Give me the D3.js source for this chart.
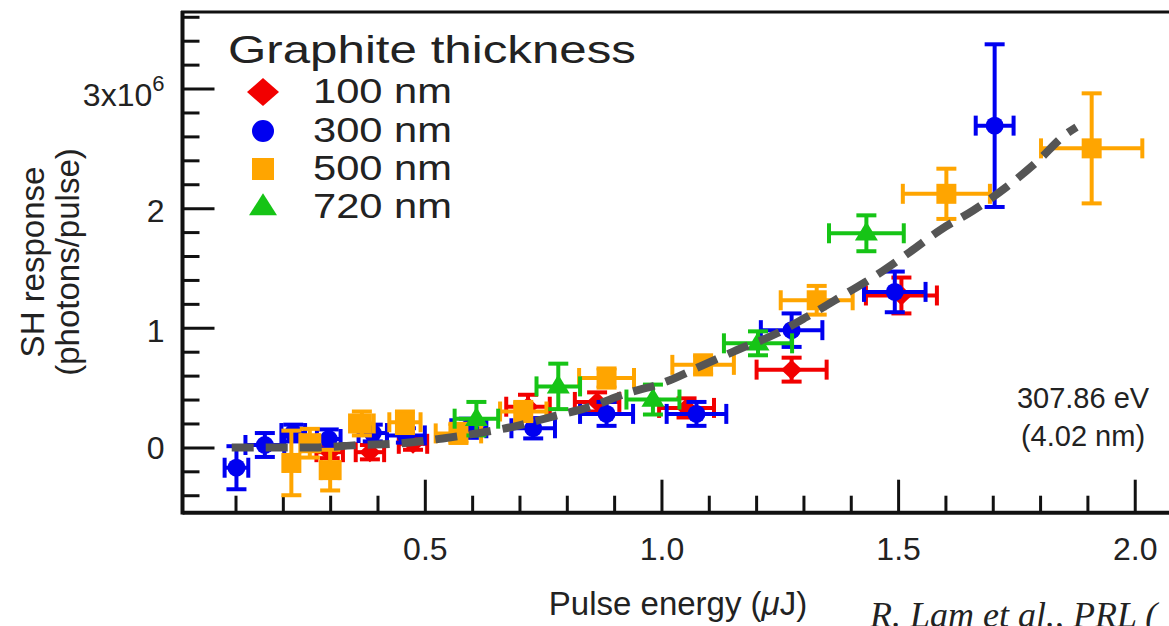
<!DOCTYPE html>
<html>
<head>
<meta charset="utf-8">
<script src="https://cdn.jsdelivr.net/npm/d3@7"></script>
<style>
  body { margin: 0; background: #fff; }
  svg { display: block; }
  text { font-family: "Liberation Sans", Arial, Helvetica, sans-serif; fill: #222; }
</style>
</head>
<body>
<svg width="1169" height="626"></svg>
<script>
// legend / series
const thickness = ['100 nm', '300 nm', '500 nm', '720 nm'];
const seriesColors = ['#f20000', '#0000f0', '#ffa500', '#16c416'];
const seriesShapes = ['diamond', 'circle', 'square', 'triangle'];

// [pulse energy (uJ), SH response (1e6 photons/pulse), x error, y error]
const points100nm = [
  [0.299, -0.04, 0.028, 0.05],
  [0.384, -0.04, 0.03, 0.06],
  [0.475, 0.03, 0.03, 0.05],
  [0.718, 0.34, 0.046, 0.10],
  [0.864, 0.38, 0.047, 0.08],
  [1.053, 0.33, 0.058, 0.08],
  [1.275, 0.65, 0.074, 0.10],
  [1.507, 1.27, 0.075, 0.15],
];
const points300nm = [
  [0.102, -0.17, 0.025, 0.18],
  [0.162, 0.02, 0.041, 0.10],
  [0.222, 0.12, 0.025, 0.07],
  [0.297, 0.07, 0.025, 0.08],
  [0.39, 0.12, 0.03, 0.07],
  [0.46, 0.10, 0.04, 0.06],
  [0.593, 0.16, 0.037, 0.08],
  [0.729, 0.16, 0.046, 0.085],
  [0.884, 0.28, 0.056, 0.10],
  [1.074, 0.28, 0.063, 0.10],
  [1.275, 0.98, 0.065, 0.14],
  [1.493, 1.30, 0.065, 0.17],
  [1.704, 2.69, 0.04, 0.68],
];
const points500nm = [
  [0.218, -0.13, 0.015, 0.27],
  [0.257, 0.035, 0.02, 0.12],
  [0.30, -0.19, 0.02, 0.17],
  [0.367, 0.20, 0.025, 0.10],
  [0.458, 0.21, 0.033, 0.09],
  [0.571, 0.117, 0.048, 0.08],
  [0.708, 0.30, 0.049, 0.08],
  [0.884, 0.58, 0.058, 0.08],
  [1.088, 0.69, 0.065, 0.08],
  [1.328, 1.23, 0.076, 0.12],
  [1.602, 2.12, 0.092, 0.21],
  [1.909, 2.50, 0.107, 0.46],
];
const points720nm = [
  [0.609, 0.24, 0.046, 0.14],
  [0.782, 0.51, 0.046, 0.19],
  [0.982, 0.40, 0.056, 0.125],
  [1.204, 0.87, 0.072, 0.10],
  [1.433, 1.79, 0.079, 0.15],
];
const allSeries = [points100nm, points300nm, points500nm, points720nm];

// dashed fit curve
const fitLine = [
  [0.092, 0], [0.194, 0], [0.275, 0], [0.359, 0.02], [0.444, 0.033],
  [0.538, 0.075], [0.609, 0.117], [0.686, 0.172], [0.768, 0.256],
  [0.849, 0.339], [0.926, 0.451], [1.0, 0.535], [1.088, 0.688],
  [1.151, 0.799], [1.243, 0.952], [1.307, 1.091], [1.384, 1.272],
  [1.454, 1.439], [1.525, 1.634], [1.588, 1.815], [1.659, 1.982],
  [1.729, 2.177], [1.793, 2.386], [1.856, 2.623], [1.877, 2.678],
];

const xMajorTicks = [0.5, 1.0, 1.5, 2.0];
const xMinorTicks = [0.1, 0.2, 0.3, 0.4, 0.6, 0.7, 0.8, 0.9, 1.1, 1.2, 1.3, 1.4, 1.6, 1.7, 1.8, 1.9, 2.1];
const yMajorTicks = [0, 1, 2, 3];
const yMinorTicks = [-0.4, -0.2, 0.2, 0.4, 0.6, 0.8, 1.2, 1.4, 1.6, 1.8, 2.2, 2.4, 2.6, 2.8, 3.2, 3.4, 3.6];

const svg = d3.select('svg');

const x = d3.scaleLinear().domain([-0.012, 2.14]).range([182.5, 1201]);
const y = d3.scaleLinear().domain([-0.546, 3.64]).range([512.7, 12]);

// axes (ticks point inward)
const gx = svg.append('g').attr('transform', 'translate(0,512.7)');
gx.call(d3.axisBottom(x).tickValues(xMinorTicks).tickSize(-17).tickSizeOuter(0).tickFormat(''));
const gxMajor = svg.append('g').attr('transform', 'translate(0,512.7)');
gxMajor.call(d3.axisBottom(x).tickValues(xMajorTicks).tickSize(-33).tickSizeOuter(0)
  .tickPadding(25).tickFormat(d3.format('.1f')));

const gy = svg.append('g').attr('transform', 'translate(182.5,0)');
gy.call(d3.axisLeft(y).tickValues(yMinorTicks).tickSize(-17).tickSizeOuter(0).tickFormat(''));
const gyMajor = svg.append('g').attr('transform', 'translate(182.5,0)');
gyMajor.call(d3.axisLeft(y).tickValues(yMajorTicks).tickSize(-32).tickSizeOuter(0)
  .tickPadding(18).tickFormat(d3.format('d')));

svg.selectAll('.domain').remove();
svg.selectAll('.tick line').attr('stroke', '#111').attr('stroke-width', 3);
svg.selectAll('.tick text').attr('font-size', 32).attr('fill', '#222')
  .attr('font-family', '"Liberation Sans", Arial, sans-serif');
gyMajor.selectAll('.tick text').attr('dy', d => d === 0 ? '0.34em' : '0.42em');

// 3x10^6 label
gyMajor.selectAll('.tick text').filter(d => d === 3)
  .attr('dy', '0.52em')
  .text('3x10')
  .append('tspan').attr('dy', -15).attr('font-size', 22).text('6');

// frame
svg.append('line').attr('x1', 182.5).attr('x2', 1169).attr('y1', 512.7).attr('y2', 512.7)
  .attr('stroke', '#111').attr('stroke-width', 4);
svg.append('line').attr('x1', 182.5).attr('x2', 182.5).attr('y1', 11).attr('y2', 514.5)
  .attr('stroke', '#111').attr('stroke-width', 4);
svg.append('line').attr('x1', 181).attr('x2', 1169).attr('y1', 12).attr('y2', 12)
  .attr('stroke', '#111').attr('stroke-width', 3);

// marker shapes
function markerPath(shape, s) {
  if (shape === 'diamond') return `M0,${-s.h}L${s.w},0L0,${s.h}L${-s.w},0Z`;
  if (shape === 'circle') return `M${s.w},0A${s.w},${s.w},0,1,1,${-s.w},0A${s.w},${s.w},0,1,1,${s.w},0Z`;
  if (shape === 'square') return `M${-s.w},${-s.w}H${s.w}V${s.w}H${-s.w}Z`;
  return `M0,${-s.h * 0.62}L${s.w},${s.h * 0.38}L${-s.w},${s.h * 0.38}Z`;
}
const plotSize = {
  diamond: { w: 10.5, h: 10 }, circle: { w: 9 }, square: { w: 10 }, triangle: { w: 11.5, h: 19 },
};
const legendSize = {
  diamond: { w: 16, h: 14 }, circle: { w: 11 }, square: { w: 11 }, triangle: { w: 14, h: 22 },
};

const cap = 10;
allSeries.forEach((pts, i) => {
  const color = seriesColors[i];
  const g = svg.append('g');
  pts.forEach(([px, py, xe, ye]) => {
    const cx = x(px), cy = y(py);
    const x0 = x(px - xe), x1 = x(px + xe), y0 = y(py - ye), y1 = y(py + ye);
    const bars = [
      [x0, cy, x1, cy], [x0, cy - cap, x0, cy + cap], [x1, cy - cap, x1, cy + cap],
      [cx, y0, cx, y1], [cx - cap, y0, cx + cap, y0], [cx - cap, y1, cx + cap, y1],
    ];
    bars.forEach(b => {
      g.append('line').attr('x1', b[0]).attr('y1', b[1]).attr('x2', b[2]).attr('y2', b[3])
        .attr('stroke', color).attr('stroke-width', 4);
    });
    g.append('path').attr('d', markerPath(seriesShapes[i], plotSize[seriesShapes[i]]))
      .attr('transform', `translate(${cx},${cy})`).attr('fill', color);
  });
});

// dashed fit
svg.append('path')
  .datum(fitLine)
  .attr('d', d3.line().x(d => x(d[0])).y(d => y(d[1])).curve(d3.curveMonotoneX))
  .attr('fill', 'none').attr('stroke', '#555').attr('stroke-width', 8)
  .attr('stroke-dasharray', '22,12');

// legend
svg.append('text').attr('x', 228).attr('y', 63).attr('font-size', 39)
  .attr('textLength', 408).attr('lengthAdjust', 'spacingAndGlyphs')
  .text('Graphite thickness');
const legendRows = [92, 131, 169, 207];
thickness.forEach((label, i) => {
  svg.append('path').attr('d', markerPath(seriesShapes[i], legendSize[seriesShapes[i]]))
    .attr('transform', `translate(263,${legendRows[i]})`).attr('fill', seriesColors[i]);
  svg.append('text').attr('x', 313).attr('y', legendRows[i] + 11).attr('font-size', 35)
    .attr('textLength', 139).attr('lengthAdjust', 'spacingAndGlyphs')
    .text(label);
});

// axis titles
svg.append('text').attr('x', 678).attr('y', 615).attr('font-size', 33).attr('text-anchor', 'middle')
  .call(t => {
    t.append('tspan').text('Pulse energy (');
    t.append('tspan').attr('font-style', 'italic').text('\u03bc');
    t.append('tspan').text('J)');
  });
svg.append('text').attr('transform', 'translate(44,262) rotate(-90)')
  .attr('font-size', 33).attr('text-anchor', 'middle').text('SH response');
svg.append('text').attr('transform', 'translate(79,262) rotate(-90)')
  .attr('font-size', 33).attr('text-anchor', 'middle').text('(photons/pulse)');

// annotation
svg.append('text').attr('x', 1083).attr('y', 408).attr('font-size', 29)
  .attr('text-anchor', 'middle').attr('fill', '#333').text('307.86 eV');
svg.append('text').attr('x', 1083).attr('y', 446).attr('font-size', 29)
  .attr('text-anchor', 'middle').attr('fill', '#333').text('(4.02 nm)');

// citation (cut at the bottom edge, as in the source image)
svg.append('text').attr('x', 870).attr('y', 627).attr('font-size', 36)
  .style('font-family', '"Liberation Serif", "Times New Roman", serif').attr('font-style', 'italic')
  .attr('fill', '#111').text('R. Lam et al.,  PRL (');
</script>
</body>
</html>
